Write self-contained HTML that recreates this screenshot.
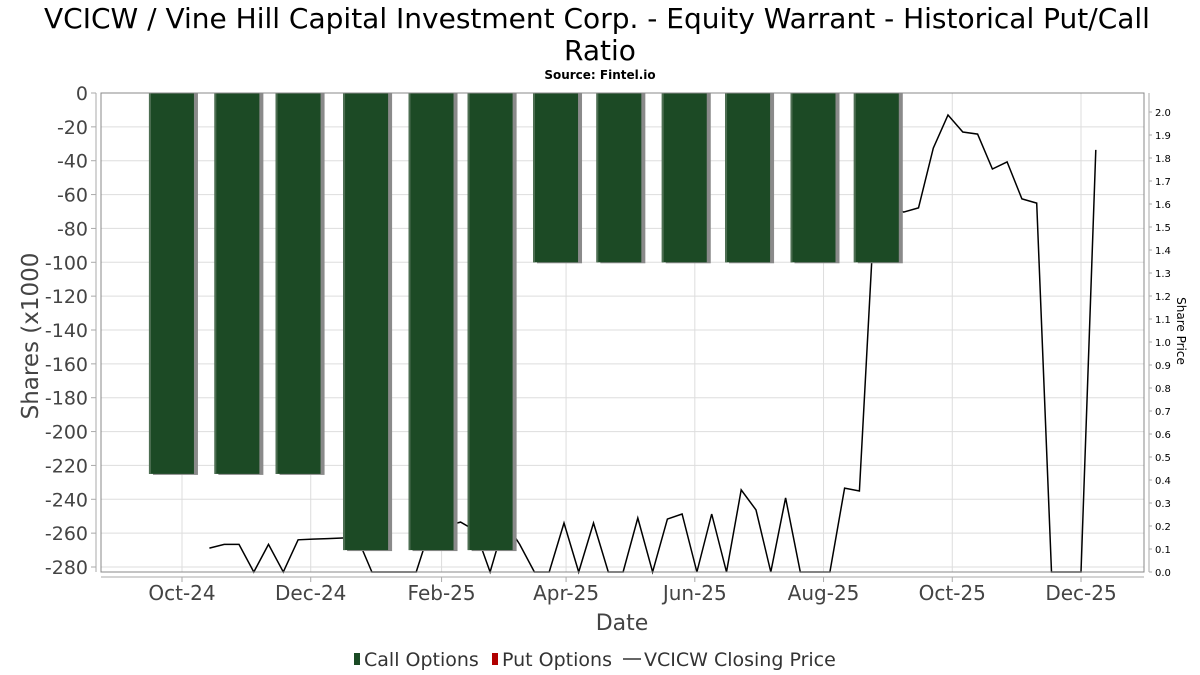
<!DOCTYPE html>
<html><head><meta charset="utf-8"><style>
html,body{margin:0;padding:0;background:#fff;width:1200px;height:675px;overflow:hidden}
svg text{font-family:"DejaVu Sans","Liberation Sans",sans-serif}
</style></head><body>
<svg id="chart" width="1200" height="675" xmlns="http://www.w3.org/2000/svg">
<text x="597" y="28" font-size="28" text-anchor="middle" fill="#000">VCICW / Vine Hill Capital Investment Corp. - Equity Warrant - Historical Put/Call</text>
<text x="600" y="60" font-size="28" text-anchor="middle" fill="#000">Ratio</text>
<text x="600" y="79" font-size="12" font-weight="bold" text-anchor="middle" fill="#000">Source: Fintel.io</text>
<g id="grid"></g>
<g id="line"></g>
<g id="bars"></g>
<rect x="101" y="93" width="1043" height="479" fill="none" stroke="#888" stroke-width="1"/>
<g id="axes"></g>
<text transform="translate(38,336) rotate(-90)" font-size="23" text-anchor="middle" fill="#444">Shares (x1000</text>
<text transform="translate(1177,331) rotate(90)" font-size="12" text-anchor="middle" fill="#000">Share Price</text>
<text x="622" y="630" font-size="22" text-anchor="middle" fill="#444">Date</text>
<g>
<rect x="354" y="653" width="6" height="12" fill="#1a4a24"/>
<text x="364" y="666" font-size="19" fill="#333">Call Options</text>
<rect x="492" y="653" width="6" height="12" fill="#b00000"/>
<text x="502" y="666" font-size="19" fill="#333">Put Options</text>
<line x1="623" y1="659" x2="641" y2="659" stroke="#333" stroke-width="1.5"/>
<text x="644" y="666" font-size="19" fill="#333">VCICW Closing Price</text>
</g>
</svg>
<script>
const barDates=["2024-09-26","2024-10-27","2024-11-25","2024-12-27","2025-01-27","2025-02-24","2025-03-27","2025-04-26","2025-05-27","2025-06-26","2025-07-27","2025-08-26"];
const callValues=[-225,-225,-225,-270,-270,-270,-100,-100,-100,-100,-100,-100];
const priceStart="2024-10-14";
const priceValues=[0.104,0.12,0.12,0,0.12,0,0.14,0.143,0.145,0.148,0.15,0,0,0,0,0.2,0.2,0.217,0.18,0,0.22,0.12,0,0,0.213,0,0.213,0,0,0.235,0,0.23,0.252,0,0.252,0,0.357,0.27,0,0.322,0,0,0,0.365,0.352,1.55,1.6,1.565,1.583,1.843,1.987,1.913,1.904,1.752,1.783,1.622,1.604,0,0,0,1.835];
const leftTicks=[0,-20,-40,-60,-80,-100,-120,-140,-160,-180,-200,-220,-240,-260,-280];
const rightTicks=[0,0.1,0.2,0.3,0.4,0.5,0.6,0.7,0.8,0.9,1.0,1.1,1.2,1.3,1.4,1.5,1.6,1.7,1.8,1.9,2.0];
const xTickLabels=["Oct-24","Dec-24","Feb-25","Apr-25","Jun-25","Aug-25","Oct-25","Dec-25"];
const xTickDates=["2024-10-01","2024-12-01","2025-02-01","2025-04-01","2025-06-01","2025-08-01","2025-10-01","2025-12-01"];

const NS="http://www.w3.org/2000/svg";
const d0=Date.UTC(2024,9,1), d1=Date.UTC(2025,11,1);
function xs(s){const t=Date.parse(s+"T00:00:00Z");return 182+(t-d0)/(d1-d0)*(1081-182);}
function yl(v){return 93+(v/-280)*(567-93);}
function yr(v){return 572-v*230;}
function mk(tag,attrs,parent){const e=document.createElementNS(NS,tag);for(const k in attrs)e.setAttribute(k,attrs[k]);parent.appendChild(e);return e;}
const grid=document.getElementById('grid'),bars=document.getElementById('bars'),line=document.getElementById('line'),axes=document.getElementById('axes');

leftTicks.forEach(v=>{const y=yl(v);
 const g=mk('line',{x1:101,x2:1144,y1:y,y2:y,stroke:'#ddd','stroke-width':1},grid);
 
 
 const tk=mk('line',{x1:91,x2:96,y1:y,y2:y,stroke:'#aaa'},axes);
 
 
 const t=mk('text',{x:88,y:y+7,'font-size':19,'text-anchor':'end',fill:'#444'},axes);t.textContent=v;
 
 
});
mk('line',{x1:96,x2:96,y1:93,y2:572,stroke:'#aaa'},axes);
mk('line',{x1:101,x2:1144,y1:577,y2:577,stroke:'#aaa'},axes);
mk('line',{x1:1149,x2:1149,y1:93,y2:572,stroke:'#aaa'},axes);
xTickDates.forEach((d,i)=>{const x=xs(d);
 const g=mk('line',{x1:x,x2:x,y1:93,y2:572,stroke:'#ddd'},grid);
 
 
 mk('line',{x1:x,x2:x,y1:577,y2:582,stroke:'#aaa'},axes);
 const t=mk('text',{x:x,y:600,'font-size':20,'text-anchor':'middle',fill:'#444'},axes);t.textContent=xTickLabels[i];
 
 
});
rightTicks.forEach(v=>{const y=yr(v);
 mk('line',{x1:1149,x2:1152,y1:y,y2:y,stroke:'#aaa'},axes);
 const t=mk('text',{x:1155,y:y+4,'font-size':10,fill:'#000'},axes);t.textContent=v.toFixed(1);
 
 
});
const bw=45;
barDates.forEach((d,i)=>{const cx=xs(d),y0=yl(0),y1=yl(callValues[i]);
 const s=mk('rect',{x:cx-bw/2+4,y:y0,width:bw,height:y1-y0+1,fill:'#8a8a8a'},bars);
 
 
 const b=mk('rect',{x:cx-bw/2,y:y0,width:bw,height:y1-y0,fill:'#1c4a25'},bars);
 
 
 const e=mk('rect',{x:cx-bw/2,y:y0,width:2,height:y1-y0,fill:'#4d6e52'},bars);
 
 
});
const st=Date.parse(priceStart+"T00:00:00Z");
const pts=priceValues.map((v,i)=>{const t=new Date(st+i*7*864e5).toISOString().slice(0,10);return xs(t).toFixed(1)+","+yr(v).toFixed(1);});
const pl=mk('polyline',{points:pts.join(" "),fill:'none',stroke:'#000','stroke-width':1.5,'stroke-linejoin':'miter'},line);


</script>
</body></html>
